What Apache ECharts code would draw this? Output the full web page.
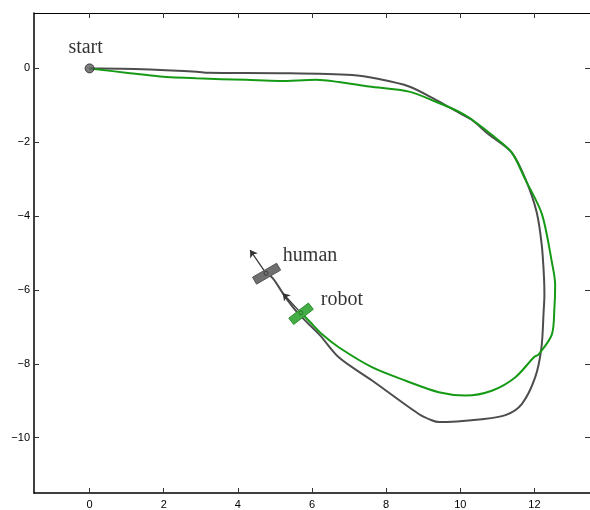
<!DOCTYPE html>
<html>
<head>
<meta charset="utf-8">
<script src="https://cdn.jsdelivr.net/npm/echarts@6/dist/echarts.min.js"></script>
<style>html,body{margin:0;padding:0;background:#fff}#c{width:590px;height:510px}</style>
</head>
<body>
<div id="c"></div>
<script>
const xTicks = [0, 2, 4, 6, 8, 10, 12];
const yTicks = [-10, -8, -6, -4, -2, 0];

const humanX = [0, 0.28, 1.63, 2.89, 3.2, 5.12, 7.08, 7.81, 8.62, 9.34, 9.96, 10.31, 10.77, 11.38, 11.76, 12.06, 12.20, 12.26, 12.27, 12.25, 12.19, 12.02, 11.66, 11.22, 10.58, 9.42, 9.23, 8.88, 7.63, 6.73, 6.20, 5.66, 5.30, 4.94, 4.76];
const humanY = [0, 0, -0.03, -0.09, -0.12, -0.13, -0.18, -0.29, -0.49, -0.85, -1.20, -1.39, -1.79, -2.27, -3.00, -3.89, -4.80, -5.68, -6.14, -6.57, -7.56, -8.37, -9.09, -9.39, -9.50, -9.58, -9.53, -9.36, -8.46, -7.83, -7.21, -6.67, -6.22, -5.68, -5.55];

const robotX = [0, 1.09, 1.90, 2.88, 4.23, 5.12, 6.11, 6.73, 7.54, 8.62, 9.33, 9.96, 10.32, 10.90, 11.39, 11.75, 12.20, 12.47, 12.56, 12.54, 12.47, 12.11, 12.00, 11.48, 10.85, 10.14, 9.42, 8.53, 7.63, 6.73, 6.28, 5.93, 5.70];
const robotY = [0, -0.13, -0.22, -0.27, -0.31, -0.34, -0.31, -0.37, -0.49, -0.63, -0.90, -1.17, -1.39, -1.84, -2.28, -3.00, -3.94, -5.24, -5.86, -6.49, -7.21, -7.75, -7.81, -8.37, -8.73, -8.86, -8.77, -8.46, -8.10, -7.56, -7.21, -6.85, -6.62];

const startPoint = [0, 0];
const humanCenter = [4.76, -5.55];
const humanArrowTip = [4.33, -4.92];
const humanBar = [4.45, -5.75, 5.10, -5.37];
const robotCenter = [5.70, -6.62];
const robotArrowTip = [5.21, -6.09];
const robotBar = [5.44, -6.85, 5.97, -6.44];

const labels = ['start', 'human', 'robot'];

const zip = (a, b) => a.map((v, i) => [v, b[i]]);

function barItem(params, api) {
  const p1 = api.coord([api.value(0), api.value(1)]);
  const p2 = api.coord([api.value(2), api.value(3)]);
  const dx = p2[0] - p1[0], dy = p2[1] - p1[1];
  const len = Math.sqrt(dx * dx + dy * dy);
  const hw = 4;
  const nx = -dy / len * hw, ny = dx / len * hw;
  const fill = params.seriesName === 'humanBar' ? '#6f6f6f' : '#45ad45';
  const stroke = params.seriesName === 'humanBar' ? '#555' : '#2b8c2b';
  return {
    type: 'polygon',
    shape: { points: [[p1[0] + nx, p1[1] + ny], [p2[0] + nx, p2[1] + ny], [p2[0] - nx, p2[1] - ny], [p1[0] - nx, p1[1] - ny]] },
    style: { fill: fill, stroke: stroke, lineWidth: 1 }
  };
}

const axisFont = { fontFamily: 'Liberation Sans', fontSize: 11, color: '#000' };
const serif = { fontFamily: 'Liberation Serif', fontSize: 20, color: '#000' };

const chart = echarts.init(document.getElementById('c'), null, { renderer: 'canvas' });
chart.setOption({
  animation: false,
  grid: { left: 34, top: 13, width: 558, height: 483, containLabel: false },
  xAxis: [
    {
      type: 'value', min: -1.5, max: 13.5, position: 'bottom',
      axisLine: { show: true, onZero: false, lineStyle: { color: '#000', width: 1.5 } },
      axisTick: { show: true, inside: true, length: 5, customValues: xTicks, lineStyle: { color: '#333' } },
      axisLabel: { show: true, customValues: xTicks, margin: 6, ...axisFont },
      splitLine: { show: false }
    },
    {
      type: 'value', min: -1.5, max: 13.5, position: 'top',
      axisLine: { show: true, onZero: false, lineStyle: { color: '#000', width: 1 } },
      axisTick: { show: true, inside: true, length: 5, customValues: xTicks, lineStyle: { color: '#333' } },
      axisLabel: { show: false },
      splitLine: { show: false }
    }
  ],
  yAxis: [
    {
      type: 'value', min: -11.5, max: 1.5, position: 'left',
      axisLine: { show: true, onZero: false, lineStyle: { color: '#000', width: 1.5 } },
      axisTick: { show: true, inside: true, length: 5, customValues: yTicks, lineStyle: { color: '#333' } },
      axisLabel: { show: true, customValues: yTicks, margin: 4, formatter: v => String(v).replace('-', '\u2212'), ...axisFont },
      splitLine: { show: false }
    },
    {
      type: 'value', min: -11.5, max: 1.5, position: 'right',
      axisLine: { show: true, onZero: false, lineStyle: { color: '#000', width: 1 } },
      axisTick: { show: true, inside: true, length: 5, customValues: yTicks, lineStyle: { color: '#333' } },
      axisLabel: { show: false },
      splitLine: { show: false }
    }
  ],
  series: [
    {
      name: 'human', type: 'line', data: zip(humanX, humanY), showSymbol: false, smooth: 0.3,
      lineStyle: { color: '#4d4d4d', width: 2 }, z: 2
    },
    {
      name: 'robot', type: 'line', data: zip(robotX, robotY), showSymbol: false, smooth: 0.3,
      lineStyle: { color: '#169a16', width: 2 }, z: 3
    },
    {
      name: 'arrows', type: 'lines', coordinateSystem: 'cartesian2d', z: 4,
      symbol: ['none', 'arrow'], symbolSize: 7,
      lineStyle: { color: '#333', width: 1.2, opacity: 1 },
      data: [{ coords: [humanCenter, humanArrowTip] }, { coords: [robotCenter, robotArrowTip] }]
    },
    { name: 'humanBar', type: 'custom', renderItem: barItem, data: [humanBar], encode: { x: [0, 2], y: [1, 3] }, z: 5 },
    { name: 'robotBar', type: 'custom', renderItem: barItem, data: [robotBar], encode: { x: [0, 2], y: [1, 3] }, z: 5 },
    {
      name: 'centers', type: 'scatter', symbol: 'circle', symbolSize: 4, z: 6,
      itemStyle: { borderWidth: 1 },
      data: [
        { value: humanCenter, itemStyle: { color: '#6f6f6f', borderColor: '#333' },
          label: { show: true, formatter: labels[1], position: 'inside', offset: [44, -18], ...serif } },
        { value: robotCenter, itemStyle: { color: '#45ad45', borderColor: '#1f6f1f' },
          label: { show: true, formatter: labels[2], position: 'inside', offset: [41, -13], ...serif } }
      ]
    },
    {
      name: 'start', type: 'scatter', symbol: 'circle', symbolSize: 9, z: 7,
      itemStyle: { color: '#5a5a5a', borderColor: '#222', borderWidth: 1 },
      data: [{ value: startPoint,
        label: { show: true, formatter: labels[0], position: 'inside', offset: [-4, -21], ...serif } }]
    }
  ]
});
</script>
</body>
</html>
